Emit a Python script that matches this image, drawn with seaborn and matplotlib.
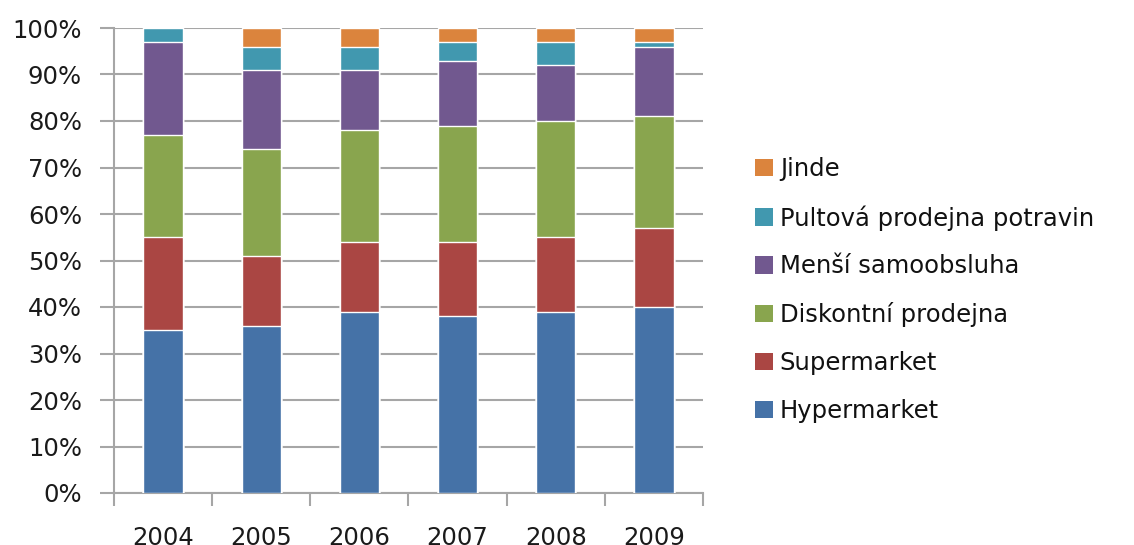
import numpy as np
import pandas as pd
import matplotlib
matplotlib.use("Agg")
import matplotlib.pyplot as plt
import seaborn as sns
from matplotlib.patches import Patch
from matplotlib.ticker import FixedLocator

years = ["2004", "2005", "2006", "2007", "2008", "2009"]
hypermarket = [35, 36, 39, 38, 39, 40]
supermarket = [20, 15, 15, 16, 16, 17]
diskontni = [22, 23, 24, 25, 25, 24]
mensi = [20, 17, 13, 14, 12, 15]
pultova = [3, 5, 5, 4, 5, 1]
jinde = [0, 4, 4, 3, 3, 3]

series_names = ["Hypermarket", "Supermarket", "Diskontní prodejna",
                "Menší samoobsluha", "Pultová prodejna potravin", "Jinde"]
series_vals = [hypermarket, supermarket, diskontni, mensi, pultova, jinde]
colors = ["#4572A7", "#AA4643", "#89A54E", "#71588F", "#4198AF", "#DB843D"]

sns.set_theme(style="white")
plt.rcParams["font.family"] = ["DejaVu Sans"]

fig = plt.figure(figsize=(11.34, 5.45), dpi=100)
ax = fig.add_axes([114 / 1134, 1 - 493 / 545, (703 - 114) / 1134, (493 - 28) / 545])

cum = np.cumsum(np.array(series_vals, dtype=float), axis=0)
for i in range(len(series_names) - 1, -1, -1):
    df = pd.DataFrame({"year": years, "value": cum[i]})
    sns.barplot(data=df, x="year", y="value", color=colors[i], saturation=1,
                width=0.4, ax=ax, errorbar=None, zorder=3)

ax.set_ylim(0, 100)
ax.set_xlim(-0.5, 5.5)
ax.set_yticks(np.arange(0, 101, 10))
ax.set_yticklabels([f"{v}%" for v in range(0, 101, 10)])
ax.yaxis.grid(True, color="#A6A6A6", linewidth=1.5, zorder=0)
ax.set_axisbelow(True)
ax.set_xlabel("")
ax.set_ylabel("")

for s in ["top", "right"]:
    ax.spines[s].set_visible(False)
for s in ["left", "bottom"]:
    ax.spines[s].set_color("#A6A6A6")
    ax.spines[s].set_linewidth(1.5)

ax.tick_params(axis="y", which="major", left=True, length=10, width=1.5,
               color="#A6A6A6", labelsize=17.5, pad=13, labelcolor="#1a1a1a")
ax.tick_params(axis="x", which="major", bottom=False, length=0,
               labelsize=17.5, pad=24, labelcolor="#1a1a1a")
ax.xaxis.set_minor_locator(FixedLocator(np.arange(-0.5, 6.0, 1.0)))
ax.tick_params(axis="x", which="minor", bottom=True, length=9, width=1.5,
               color="#A6A6A6")

handles = [Patch(facecolor=colors[i], edgecolor="none", label=series_names[i])
           for i in range(len(series_names) - 1, -1, -1)]
fig.legend(handles=handles, loc="center left", bbox_to_anchor=(755 / 1134, 1 - 290 / 545),
           frameon=False, fontsize=17.5, handlelength=0.72, handleheight=0.72,
           handletextpad=0.3, labelspacing=0.98, borderpad=0, borderaxespad=0,
           labelcolor="#111111")

fig.savefig("out.png", dpi=100)
